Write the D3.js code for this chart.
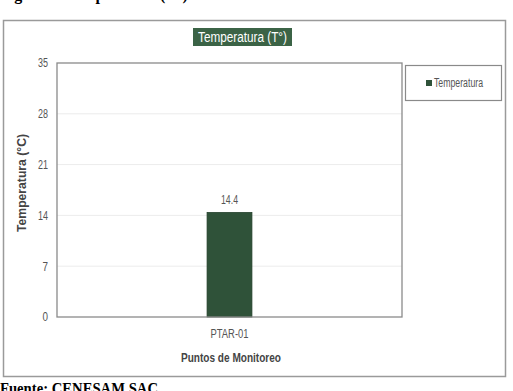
<!DOCTYPE html>
<html>
  <head>
    <meta charset="utf-8">
    <title>Temperatura</title>
    <script src="https://cdn.jsdelivr.net/npm/d3@7"></script>
    <style>
      body { margin: 0; background: #fff; }
      svg { display: block; }
    </style>
  </head>
  <body>
    <script>
      var w = 513
      var h = 391
      // data
      var puntos = ["PTAR-01"];
      var temperatura = [14.4];
      var yTicks = [0, 7, 14, 21, 28, 35];

      var sans = "Liberation Sans, Arial, sans-serif";
      var serif = "Liberation Serif, Times New Roman, serif";

      var svg = d3.select("body").append("svg")
                  .attr("width", w)
                  .attr("height", h);

      // caption text cut off at top and bottom of picture
      svg.append("text")
         .attr("x", 0).attr("y", 0)
         .attr("font-family", serif)
         .attr("font-weight", "bold").attr("font-size", 16)
         .text("Figura 5. Temperatura (T°)");
      svg.append("text")
         .attr("x", 0).attr("y", 394)
         .attr("font-family", serif)
         .attr("font-weight", "bold").attr("font-size", 16)
         .attr("textLength", 158).attr("lengthAdjust", "spacingAndGlyphs")
         .text("Fuente: CENESAM SAC");

      // outer frame
      svg.append("rect")
         .attr("x", 3.5).attr("y", 20.5)
         .attr("width", 502).attr("height", 356)
         .attr("fill", "#fff").attr("stroke", "#9a9a9a").attr("stroke-width", 1.5);

      var margin = {left: 57, top: 63, right: 402, bottom: 317};

      var x = d3.scaleBand()
                .domain(puntos)
                .range([margin.left, margin.right])
                .paddingInner(0.87).paddingOuter(0.435);
      var y = d3.scaleLinear()
                .domain([0, 35])
                .range([margin.bottom, margin.top]);

      // gridlines
      svg.append("g")
         .selectAll("line")
         .data(yTicks.slice(1, -1))
         .enter()
         .append("line")
         .attr("x1", margin.left).attr("x2", margin.right)
         .attr("y1", function(d) { return y(d); })
         .attr("y2", function(d) { return y(d); })
         .attr("stroke", "#ececec").attr("stroke-width", 1);

      // y axis labels
      var yAxis = d3.axisLeft(y).tickValues(yTicks).tickSize(0).tickPadding(9);
      var gy = svg.append("g")
                  .attr("transform", "translate(" + margin.left + ",0)")
                  .call(yAxis);
      gy.select(".domain").remove();
      gy.selectAll("text").attr("font-size", 12).attr("fill", "#555")
        .attr("font-family", sans)
        .attr("textLength", function(d) { return d < 10 ? 5.5 : 10; })
        .attr("lengthAdjust", "spacingAndGlyphs");

      // x axis labels
      var xAxis = d3.axisBottom(x).tickSize(0).tickPadding(12);
      var gx = svg.append("g")
                  .attr("transform", "translate(0," + margin.bottom + ")")
                  .call(xAxis);
      gx.select(".domain").remove();
      gx.selectAll("text").attr("font-size", 12).attr("fill", "#555")
        .attr("font-family", sans)
        .attr("textLength", 38).attr("lengthAdjust", "spacingAndGlyphs");

      // bars
      svg.selectAll(".bar")
         .data(temperatura)
         .enter()
         .append("rect")
         .attr("class", "bar")
         .attr("x", function(d, i) { return x(puntos[i]); })
         .attr("y", function(d) { return y(d); })
         .attr("width", x.bandwidth())
         .attr("height", function(d) { return y(0) - y(d); })
         .attr("fill", "#2f5239")
         .attr("stroke", "#24402c").attr("stroke-width", 0.8);

      svg.selectAll(".val")
         .data(temperatura)
         .enter()
         .append("text")
         .attr("class", "val")
         .attr("x", function(d, i) { return x(puntos[i]) + x.bandwidth() / 2; })
         .attr("y", function(d) { return y(d) - 8; })
         .attr("text-anchor", "middle")
         .attr("font-family", sans)
         .attr("font-size", 12).attr("fill", "#555")
         .attr("textLength", 17).attr("lengthAdjust", "spacingAndGlyphs")
         .text(function(d) { return d; });

      // plot border
      svg.append("rect")
         .attr("x", margin.left).attr("y", margin.top)
         .attr("width", margin.right - margin.left)
         .attr("height", margin.bottom - margin.top)
         .attr("fill", "none").attr("stroke", "#8a8a8a").attr("stroke-width", 1.3);

      // axis titles
      svg.append("text")
         .attr("transform", "translate(26," + ((margin.top + margin.bottom) / 2 - 7) + ") rotate(-90)")
         .attr("text-anchor", "middle")
         .attr("font-family", sans)
         .attr("font-weight", "bold").attr("font-size", 13).attr("fill", "#444")
         .attr("textLength", 98).attr("lengthAdjust", "spacingAndGlyphs")
         .text("Temperatura (°C)");
      svg.append("text")
         .attr("x", 231).attr("y", 362)
         .attr("text-anchor", "middle")
         .attr("font-family", sans)
         .attr("font-weight", "bold").attr("font-size", 13).attr("fill", "#444")
         .attr("textLength", 100).attr("lengthAdjust", "spacingAndGlyphs")
         .text("Puntos de Monitoreo");

      // title box
      svg.append("rect")
         .attr("x", 193).attr("y", 28)
         .attr("width", 99).attr("height", 18)
         .attr("fill", "#3b6346");
      svg.append("text")
         .attr("x", 242.5).attr("y", 42)
         .attr("text-anchor", "middle")
         .attr("font-family", sans)
         .attr("font-size", 14).attr("fill", "#fff")
         .attr("textLength", 89).attr("lengthAdjust", "spacingAndGlyphs")
         .text("Temperatura (T°)");

      // legend
      var lg = svg.append("g");
      lg.append("rect")
        .attr("x", 405.5).attr("y", 65.5)
        .attr("width", 96).attr("height", 35)
        .attr("fill", "#fff").attr("stroke", "#8a8a8a").attr("stroke-width", 1.2);
      lg.append("rect")
        .attr("x", 426).attr("y", 80)
        .attr("width", 6).attr("height", 6)
        .attr("fill", "#2f5239");
      lg.append("text")
        .attr("x", 434).attr("y", 87)
        .attr("font-family", sans)
        .attr("font-size", 12).attr("fill", "#555")
        .attr("textLength", 49).attr("lengthAdjust", "spacingAndGlyphs")
        .text("Temperatura");
    </script>
  </body>
</html>
